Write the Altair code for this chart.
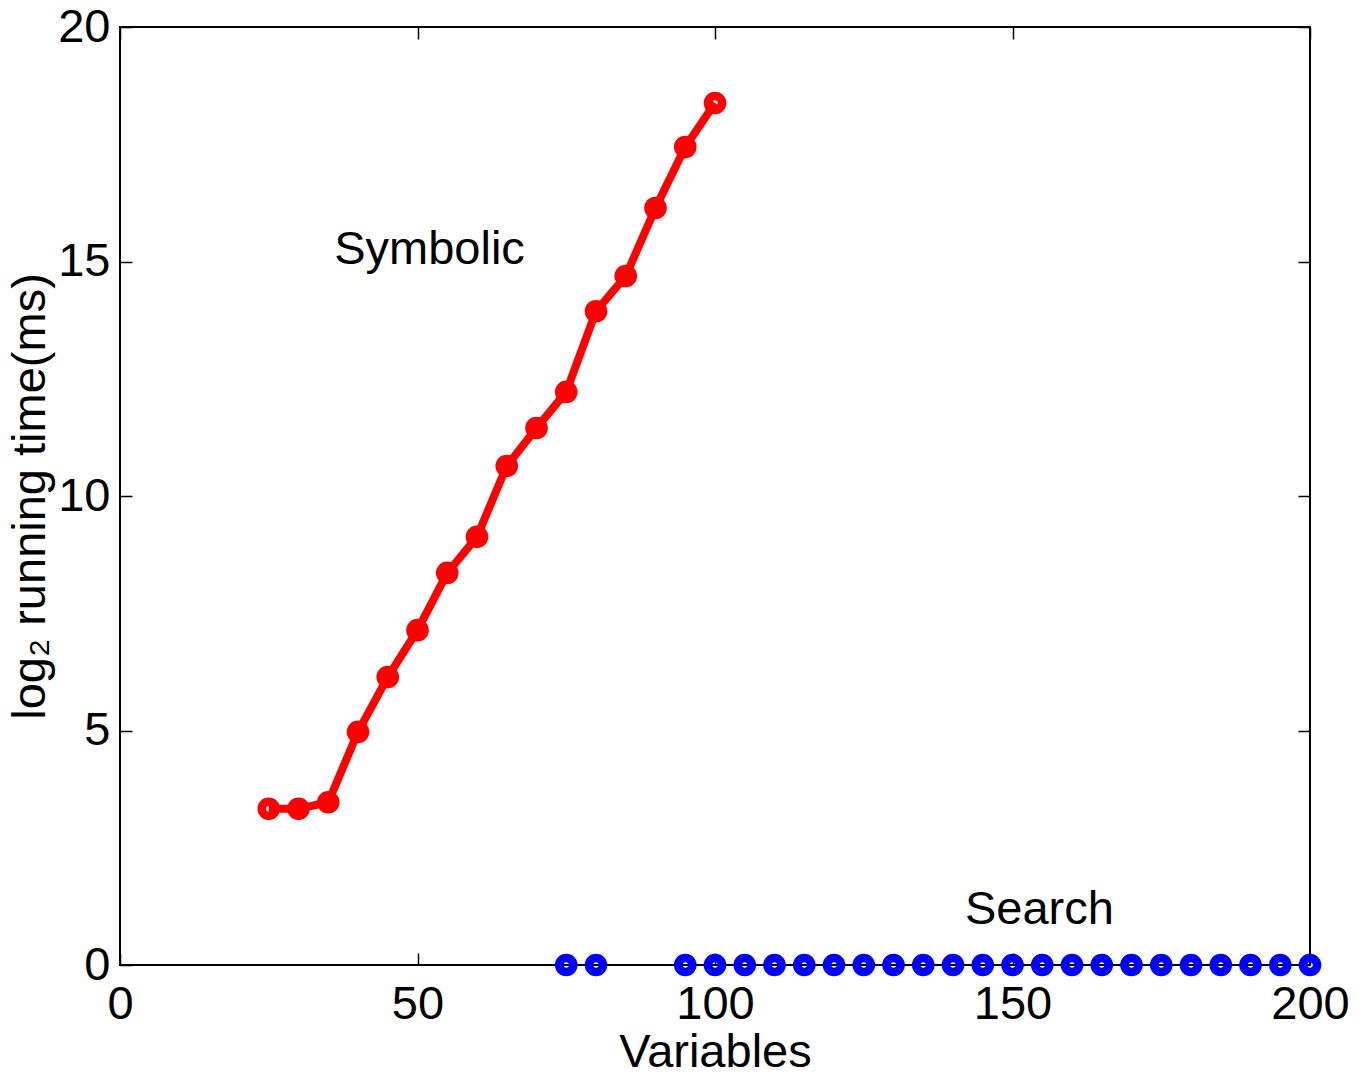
import altair as alt
import pandas as pd

sym_x = [25, 30, 35, 40, 45, 50, 55, 60, 65, 70, 75, 80, 85, 90, 95, 100]
sym_y = [3.33, 3.33, 3.47, 4.97, 6.14, 7.14, 8.36, 9.13, 10.64, 11.45, 12.22,
         13.94, 14.69, 16.14, 17.44, 18.38]
search_x = [75, 80, 95, 100, 105, 110, 115, 120, 125, 130, 135, 140, 145, 150,
            155, 160, 165, 170, 175, 180, 185, 190, 195, 200]
search_y = [0.0] * len(search_x)
label_text = ["Symbolic", "Search"]
label_x = [36, 142]
label_y = [15.25, 1.17]

sym = pd.DataFrame({"x": sym_x, "y": sym_y})
srch = pd.DataFrame({"x": search_x, "y": search_y})
labs = pd.DataFrame({"x": label_x, "y": label_y, "t": label_text})

FONT = "Liberation Sans"
FS = 47
xs = alt.Scale(domain=[0, 200], nice=False, zero=False)
ys = alt.Scale(domain=[0, 20], nice=False, zero=False)
xvals = [0, 50, 100, 150, 200]
yvals = [0, 5, 10, 15, 20]

label_x_axis = alt.Axis(values=xvals, ticks=False, domain=False, grid=False,
                        labelFont=FONT, labelFontSize=FS, labelColor="black",
                        labelFlush=False, labelPadding=16, labelOverlap=False,
                        title="Variables", titleFont=FONT, titleFontSize=FS,
                        titleFontWeight="normal", titleColor="black", titlePadding=2)
label_y_axis = alt.Axis(values=yvals, ticks=False, domain=False, grid=False,
                        labelFont=FONT, labelFontSize=FS, labelColor="black",
                        labelFlush=False, labelPadding=10, labelOverlap=False,
                        title="log₂ running time(ms)", titleFont=FONT, titleFontSize=FS,
                        titleFontWeight="normal", titleColor="black", titlePadding=3)

TL = 12


def tick_axis(vals, orient):
    return alt.Axis(values=vals, orient=orient, offset=-TL, tickSize=TL, tickWidth=1.5,
                    tickColor="black", domain=False, labels=False, grid=False, title=None)


line = alt.Chart(sym).mark_line(color="#ff0000", strokeWidth=8, clip=False).encode(
    x=alt.X("x:Q", scale=xs, axis=label_x_axis),
    y=alt.Y("y:Q", scale=ys, axis=label_y_axis),
)
pts = alt.Chart(sym).mark_point(shape="circle", filled=False, color="#ff0000", size=200,
                                strokeWidth=8.5, opacity=1, clip=False).encode(
    x=alt.X("x:Q", scale=xs, axis=tick_axis(xvals, "bottom")),
    y=alt.Y("y:Q", scale=ys, axis=tick_axis(yvals, "left")),
)
spts = alt.Chart(srch).mark_point(shape="circle", filled=False, color="#0000ff", size=200,
                                  strokeWidth=8.5, opacity=1, clip=False).encode(
    x=alt.X("x:Q", scale=xs, axis=tick_axis(xvals, "top")),
    y=alt.Y("y:Q", scale=ys, axis=tick_axis(yvals, "right")),
)
txt = alt.Chart(labs).mark_text(font=FONT, fontSize=FS, align="left", baseline="middle",
                                color="black").encode(
    x=alt.X("x:Q", scale=xs, axis=None),
    y=alt.Y("y:Q", scale=ys, axis=None),
    text="t:N",
)

chart = alt.layer(line, pts, spts, txt).resolve_axis(
    x="independent", y="independent"
).properties(
    width=1190, height=938,
    background="white",
    autosize=alt.AutoSizeParams(type="none"),
    padding={"left": 112, "top": 19, "right": 45, "bottom": 112},
).configure_view(stroke="black", strokeWidth=2)

chart.save("out.html", embed_options={"renderer": "svg", "actions": False})
